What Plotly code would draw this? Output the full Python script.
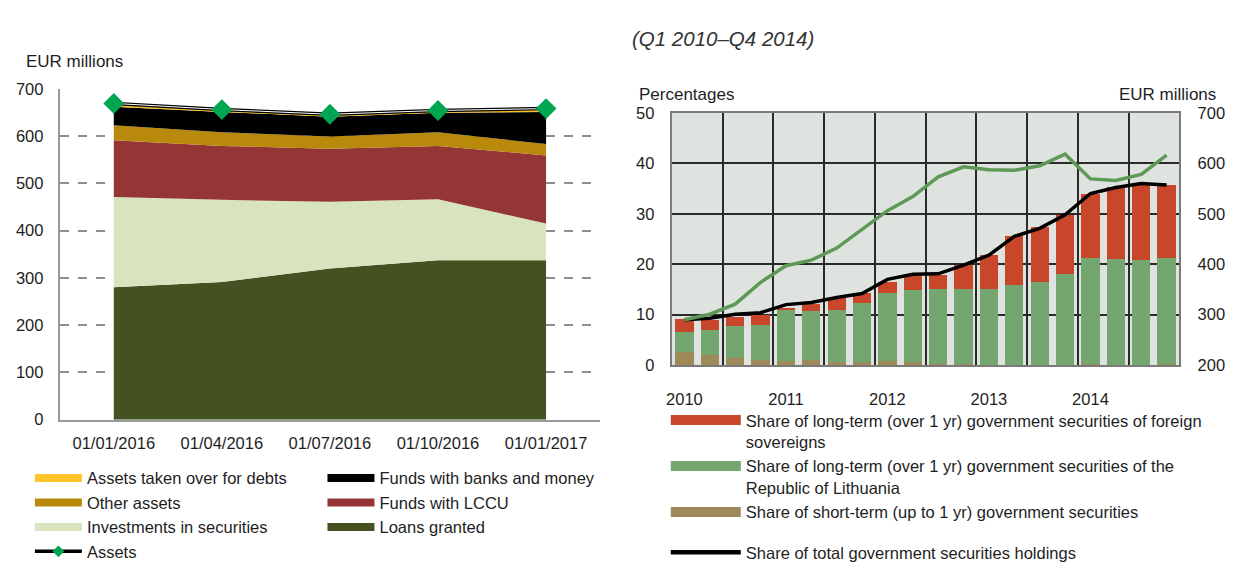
import numpy as np
import plotly.graph_objects as go

# ---------------- Left chart data (EUR millions) ----------------
dates = ["01/01/2016", "01/04/2016", "01/07/2016", "01/10/2016", "01/01/2017"]
loans_granted = [280, 291, 320, 337, 337]
investments_in_securities = [191, 174, 141, 129, 78]
funds_with_lccu = [120, 114, 112, 113, 144]
other_assets = [32, 29, 26, 29, 24]
funds_with_banks = [39, 43, 42, 41, 68]
assets_taken_over = [4, 3, 3, 3, 3]
assets_total = [669, 656, 646, 654, 658]
left_yticks = [0, 100, 200, 300, 400, 500, 600, 700]

# ---------------- Right chart data ----------------
quarters = [f"Q{q} {y}" for y in range(2010, 2015) for q in range(1, 5)]
year_labels = ["2010", "2011", "2012", "2013", "2014"]
short_term = [2.7, 2.1, 1.4, 1.1, 0.8, 1.1, 0.7, 0.7, 0.9, 0.7, 0.2, 0.2,
              0.1, 0.1, 0.1, 0.1, 0.2, 0.1, 0.1, 0.3]
lt_lithuania = [3.8, 4.8, 6.3, 6.9, 10.2, 9.6, 10.2, 11.7, 13.4, 14.1, 14.9, 14.9,
                15.0, 15.7, 16.4, 18.0, 21.0, 21.0, 20.7, 20.9]
lt_foreign = [2.6, 2.1, 1.9, 1.9, 0.3, 1.4, 2.5, 1.9, 2.1, 2.9, 2.8, 4.7,
              6.8, 9.8, 10.8, 11.6, 12.8, 14.1, 14.9, 14.5]
total_share = [9.0, 9.3, 10.1, 10.4, 12.0, 12.4, 13.4, 14.2, 17.0, 18.0, 18.1, 19.8,
               21.8, 25.5, 27.1, 29.8, 34.0, 35.2, 36.0, 35.7]
holdings_eur = [290, 301, 321, 364, 397, 408, 432, 470, 506, 534, 573, 593,
                587, 586, 595, 618, 569, 566, 578, 616]

FONT = "Liberation Sans, Arial, sans-serif"
TXT = "#1e1e1e"
FS = 16.5

C_YELLOW = "#ffc52a"
C_OTHER = "#b8890a"
C_INVEST = "#d8e4be"
C_LCCU = "#943636"
C_BANKS = "#000000"
C_LOANS = "#445222"
C_DIAMOND = "#00a651"

C_FOREIGN = "#c8472a"
C_LT = "#74a66f"
C_ST = "#9d8a58"
C_GREENLINE = "#5d9a55"

fig = go.Figure()

# ---- left stacked areas ----
stack = [
    (loans_granted, C_LOANS),
    (investments_in_securities, C_INVEST),
    (funds_with_lccu, C_LCCU),
    (other_assets, C_OTHER),
    (funds_with_banks, C_BANKS),
]
for vals, col in stack:
    fig.add_trace(go.Scatter(x=dates, y=vals, stackgroup="one", mode="none",
                             fillcolor=col, showlegend=False, hoverinfo="skip",
                             xaxis="x", yaxis="y"))
fig.add_trace(go.Scatter(x=dates, y=assets_taken_over, stackgroup="one", mode="lines",
                         line=dict(color=C_YELLOW, width=2), fillcolor=C_YELLOW,
                         showlegend=False, xaxis="x", yaxis="y"))
fig.add_trace(go.Scatter(x=dates, y=assets_total, mode="lines",
                         line=dict(color="black", width=3.5), showlegend=False,
                         xaxis="x", yaxis="y"))
fig.add_trace(go.Scatter(x=dates, y=assets_total, mode="lines+markers",
                         line=dict(color="white", width=1),
                         marker=dict(symbol="diamond", size=16, color=C_DIAMOND),
                         showlegend=False, xaxis="x", yaxis="y"))

# ---- legend entries (swatches) ----
def leg(name, color, legend, width=8, marker=None, group=None):
    kw = dict(x=[None], y=[None], mode="lines", name=name,
              line=dict(color=color, width=width), legend=legend,
              xaxis="x", yaxis="y", hoverinfo="skip")
    if marker:
        kw["mode"] = "lines+markers"
        kw["marker"] = marker
    if group:
        kw["legendgroup"] = group
    fig.add_trace(go.Scatter(**kw))

leg("Assets taken over for debts", C_YELLOW, "legend")
leg("Other assets", C_OTHER, "legend")
leg("Investments in securities", C_INVEST, "legend")
leg("Assets", "black", "legend", width=3.5,
    marker=dict(symbol="diamond", size=9, color=C_DIAMOND))
leg("Funds with banks and money", C_BANKS, "legend2")
leg("Funds with LCCU", C_LCCU, "legend2")
leg("Loans granted", C_LOANS, "legend2")

# ---- right chart ----
xi = np.arange(len(quarters))
for vals, col in [(short_term, C_ST), (lt_lithuania, C_LT), (lt_foreign, C_FOREIGN)]:
    fig.add_trace(go.Bar(x=xi, y=vals, marker=dict(color=col, line=dict(width=0)),
                         width=0.72, showlegend=False, xaxis="x2", yaxis="y2",
                         hovertext=quarters))
fig.add_trace(go.Scatter(x=xi, y=holdings_eur, mode="lines",
                         line=dict(color=C_GREENLINE, width=3.5), showlegend=False,
                         xaxis="x2", yaxis="y3"))
fig.add_trace(go.Scatter(x=xi, y=total_share, mode="lines",
                         line=dict(color="black", width=3.5), showlegend=False,
                         xaxis="x2", yaxis="y2"))

leg("Share of long-term (over 1 yr) government securities of foreign<br>sovereigns",
    C_FOREIGN, "legend3", width=10, group="bars")
leg("Share of long-term (over 1 yr) government securities of the<br>Republic of Lithuania",
    C_LT, "legend3", width=10, group="bars")
leg("Share of short-term (up to 1 yr) government securities",
    C_ST, "legend3", width=10, group="bars")
leg("Share of total government securities holdings", "black", "legend3", width=4.5,
    group="line")

W, H = 1236, 570
def px(v): return v / W
def py(v): return 1 - v / H

fig.update_layout(
    width=W, height=H,
    margin=dict(l=0, r=0, t=0, b=0),
    paper_bgcolor="white", plot_bgcolor="white",
    font=dict(family=FONT, size=FS, color=TXT),
    barmode="stack",
    showlegend=True,
    xaxis=dict(domain=[px(54), px(597)], anchor="y", type="category",
               range=[-0.5, 4.5], showgrid=False, zeroline=False,
               showline=True, linecolor="#9a9a9a", linewidth=2,
               ticks="outside", ticklen=8, tickcolor="rgba(0,0,0,0)",
               tickfont=dict(size=FS)),
    yaxis=dict(domain=[py(432.7), py(84)], anchor="x", range=[0, 700],
               tickvals=left_yticks, showgrid=True, gridcolor="#8f8f8f",
               griddash="dash", gridwidth=1.5, zeroline=False,
               showline=True, linecolor="#9a9a9a", linewidth=2,
               ticks="outside", ticklen=11, tickcolor="rgba(0,0,0,0)",
               tickfont=dict(size=FS)),
    xaxis2=dict(domain=[px(669), px(1179)], anchor="y2", range=[-0.5, 19.5],
                tickvals=[0, 4, 8, 12, 16], ticktext=year_labels,
                showgrid=False, zeroline=False,
                ticks="outside", ticklen=18, tickcolor="rgba(0,0,0,0)",
                tickfont=dict(size=FS),
                minor=dict(tickvals=[1.5 + 2 * k for k in range(9)], showgrid=True,
                           gridcolor="#2a2a2a", gridwidth=1.5, ticks=""),
                showline=True, mirror=True, linecolor="#7a7a7a", linewidth=2),
    yaxis2=dict(domain=[py(375.3), py(109.3)], anchor="x2", range=[0, 50],
                tickvals=[0, 10, 20, 30, 40, 50], showgrid=True,
                gridcolor="#2a2a2a", gridwidth=1.5, zeroline=False,
                showline=True, mirror=True, linecolor="#7a7a7a", linewidth=2,
                ticks="outside", ticklen=12, tickcolor="rgba(0,0,0,0)",
                tickfont=dict(size=FS)),
    yaxis3=dict(overlaying="y2", anchor="x2", side="right", range=[200, 700],
                tickvals=[200, 300, 400, 500, 600, 700], showgrid=False,
                zeroline=False, showline=False,
                ticks="outside", ticklen=14, tickcolor="rgba(0,0,0,0)",
                tickfont=dict(size=FS)),
    legend=dict(x=px(24), y=py(476), xanchor="left", yanchor="top",
                itemwidth=47, bgcolor="rgba(0,0,0,0)", font=dict(size=FS),
                traceorder="normal"),
    legend2=dict(x=px(318), y=py(476), xanchor="left", yanchor="top",
                 itemwidth=47, bgcolor="rgba(0,0,0,0)", font=dict(size=FS),
                 traceorder="normal"),
    legend3=dict(x=px(663), y=py(415), xanchor="left", yanchor="top",
                 itemwidth=70, bgcolor="rgba(0,0,0,0)", font=dict(size=FS),
                 traceorder="grouped", tracegroupgap=16, valign="top"),
    shapes=[dict(type="rect", xref="x2 domain", yref="y2 domain",
                 x0=0, x1=1, y0=0, y1=1, fillcolor="#dfe3df",
                 line=dict(width=0), layer="below")],
    annotations=[
        dict(text="EUR millions", x=px(18), y=py(55), xref="paper", yref="paper",
             xanchor="left", yanchor="middle", showarrow=False, font=dict(size=17)),
        dict(text="<i>(Q1 2010\u2013Q4 2014)</i>", x=px(627), y=py(31),
             xref="paper", yref="paper", xanchor="left", yanchor="middle",
             showarrow=False, font=dict(size=20.5, color="#333333")),
        dict(text="Percentages", x=px(634), y=py(90), xref="paper", yref="paper",
             xanchor="left", yanchor="middle", showarrow=False, font=dict(size=17)),
        dict(text="EUR millions", x=px(1218), y=py(90), xref="paper", yref="paper",
             xanchor="right", yanchor="middle", showarrow=False, font=dict(size=17)),
    ],
)

fig.write_html("out.html", config={"displayModeBar": False},
               post_script="document.body.style.margin='0';document.body.style.overflow='hidden';")
